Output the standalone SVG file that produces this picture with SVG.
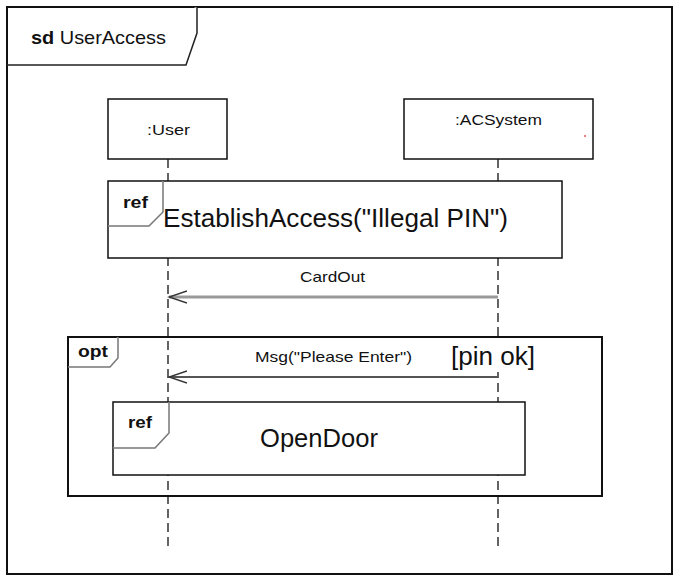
<svg xmlns="http://www.w3.org/2000/svg" width="682" height="586" viewBox="0 0 682 586">
<defs>
<style>
.frame{fill:none;stroke:#111;stroke-width:2}
.box{fill:#fff;stroke:#111;stroke-width:1.5}
.tab{fill:#fff;stroke:#777;stroke-width:1.5}
.life{stroke:#111;stroke-width:1.3;stroke-dasharray:9 5;fill:none}
.t{font-family:"Liberation Sans",Arial,sans-serif;fill:#111}
.b{font-weight:bold}
</style>
<marker id="open" markerWidth="20" markerHeight="14" refX="18" refY="7" orient="auto" markerUnits="userSpaceOnUse">
<path d="M0,1 L18,7 L0,13" fill="none" stroke="#333" stroke-width="1.5"/>
</marker>
</defs>
<rect width="682" height="586" fill="#fff"/>
<g id="frame">
<rect class="frame" x="7" y="7" width="665" height="567"/>
<path d="M7,65 L186,65 L197,33 L197,7" fill="#fff" stroke="#222" stroke-width="1.5"/>
<text class="t" x="31" y="44" font-size="19" textLength="135" lengthAdjust="spacingAndGlyphs"><tspan class="b">sd</tspan> UserAccess</text>
</g>
<g id="lifelines">
<line class="life" x1="168" y1="159" x2="168" y2="549"/>
<line class="life" x1="498" y1="159" x2="498" y2="549"/>
</g>
<g id="user">
<rect class="box" x="108" y="99" width="119" height="60"/>
<text class="t" x="147" y="135" font-size="15" textLength="43" lengthAdjust="spacingAndGlyphs">:User</text>
</g>
<g id="acsystem">
<rect class="box" x="404" y="99" width="189" height="60"/>
<text class="t" x="455" y="125" font-size="15" textLength="87" lengthAdjust="spacingAndGlyphs">:ACSystem</text>
<rect x="584" y="135" width="2" height="2" fill="#f08080"/>
</g>
<g id="ref-establish">
<rect class="box" x="108" y="181" width="454" height="77"/>
<path class="tab" d="M108,226 L149,226 L163,212 L163,181"/>
<text class="t b" x="123" y="208" font-size="17" textLength="25" lengthAdjust="spacingAndGlyphs">ref</text>
<text class="t" x="163" y="227" font-size="25.5" textLength="345" lengthAdjust="spacingAndGlyphs">EstablishAccess("Illegal PIN")</text>
</g>
<g id="opt">
<rect class="frame" x="68" y="337" width="534" height="159" stroke-width="1.5"/>
<path class="tab" d="M68,367 L110,367 L118,358 L118,337" stroke="#555"/>
<text class="t b" x="78" y="357" font-size="17" textLength="30" lengthAdjust="spacingAndGlyphs">opt</text>
<rect x="449" y="339" width="90" height="33" fill="#fff"/>
<text class="t" x="451" y="365" font-size="26" textLength="84" lengthAdjust="spacingAndGlyphs">[pin ok]</text>
</g>
<g id="ref-opendoor">
<rect class="box" x="113" y="402" width="412" height="73"/>
<path class="tab" d="M113,448 L155,448 L169,433 L169,402"/>
<text class="t b" x="128" y="428" font-size="17" textLength="24" lengthAdjust="spacingAndGlyphs">ref</text>
<text class="t" x="260" y="447" font-size="25" textLength="118" lengthAdjust="spacingAndGlyphs">OpenDoor</text>
</g>
<g id="connectors">
<line x1="498" y1="297" x2="169" y2="297" stroke="#999" stroke-width="3" marker-end="url(#open)"/>
<text class="t" x="300" y="282" font-size="15" textLength="65" lengthAdjust="spacingAndGlyphs">CardOut</text>
<line x1="498" y1="377" x2="169" y2="377" stroke="#555" stroke-width="2" marker-end="url(#open)"/>
<text class="t" x="255" y="362" font-size="15" textLength="157" lengthAdjust="spacingAndGlyphs">Msg("Please Enter")</text>
</g>
</svg>
